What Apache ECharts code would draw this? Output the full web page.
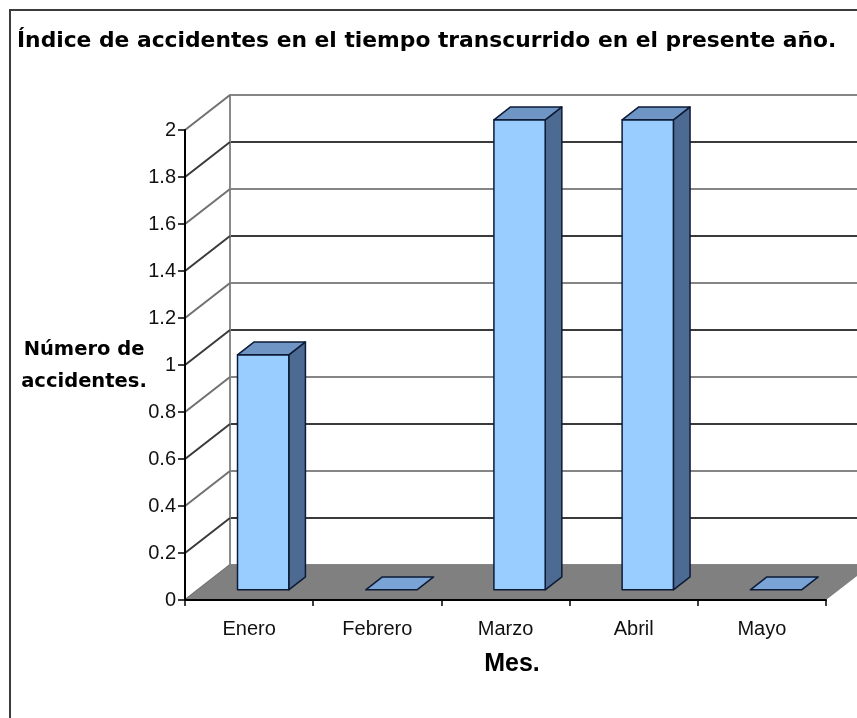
<!DOCTYPE html>
<html lang="es">
	<head>
		<meta charset="UTF-8" />
		<title>Índice de accidentes</title>
		<script src="https://cdn.jsdelivr.net/npm/echarts@6/dist/echarts.min.js"></script>
		<style>
			html, body { margin: 0; padding: 0; background: #fff; }
		</style>
	</head>
	<body>
		<div id="chart" style="width: 857px; height: 718px"></div>

		<script>
			const months = ["Enero", "Febrero", "Marzo", "Abril", "Mayo"];
			const accidents = [1, 0, 2, 2, 0];
			const yTicks = [0, 0.2, 0.4, 0.6, 0.8, 1, 1.2, 1.4, 1.6, 1.8, 2];

			// depth vector from the front plane to the back wall
			const DX = 45;
			const DY = -35;
			const BAR_FRONT = 0.29;
			const BAR_BACK = 0.66;

			const chart = echarts.init(document.getElementById("chart"));

			function renderDiagonal(params, api) {
				const cs = params.coordSys;
				const y = api.coord([0, api.value(0)])[1];
				return {
					type: "line",
					shape: { x1: cs.x, y1: y, x2: cs.x + DX, y2: y + DY },
					style: { stroke: params.dataIndex % 2 ? "#3a3a3a" : "#707070", lineWidth: 2 },
				};
			}

			function renderFloor(params, api) {
				const cs = params.coordSys;
				const y0 = api.coord([0, 0])[1];
				return {
					type: "polygon",
					shape: {
						points: [
							[cs.x, y0],
							[cs.x + cs.width, y0],
							[cs.x + cs.width + DX, y0 + DY],
							[cs.x + DX, y0 + DY],
						],
					},
					style: { fill: "#808080" },
				};
			}

			function renderBar(params, api) {
				const idx = api.value(0);
				const top = api.coord([idx, api.value(1)]);
				const base = api.coord([idx, 0]);
				const bw = api.size([1, 0])[0] * 0.4;
				const xL = top[0] - bw / 2 + DX * BAR_FRONT + 1;
				const xR = xL + bw;
				const yT = top[1] + DY * BAR_FRONT;
				const yB = base[1] + DY * BAR_FRONT;
				const ddx = DX * (BAR_BACK - BAR_FRONT);
				const ddy = DY * (BAR_BACK - BAR_FRONT);
				const stroke = { stroke: "#0d1b36", lineWidth: 1.5, lineJoin: "round" };
				const children = [];
				if (yB - yT > 0.5) {
					children.push({
						type: "polygon",
						shape: { points: [[xR, yT], [xR, yB], [xR + ddx, yB + ddy], [xR + ddx, yT + ddy]] },
						style: Object.assign({ fill: "#4d6a92" }, stroke),
					});
					children.push({
						type: "rect",
						shape: { x: xL, y: yT, width: bw, height: yB - yT },
						style: Object.assign({ fill: "#99ccff" }, stroke),
					});
				}
				children.push({
					type: "polygon",
					shape: { points: [[xL, yT], [xR, yT], [xR + ddx, yT + ddy], [xL + ddx, yT + ddy]] },
					style: Object.assign({ fill: yB - yT > 0.5 ? "#6f95c5" : "#7aa3d6" }, stroke),
				});
				return { type: "group", children: children };
			}

			const option = {
				backgroundColor: "#ffffff",
				animation: false,
				grid: [
					{ left: 185, top: 130, width: 641, height: 470 },
					{ left: 230, top: 95, width: 641, height: 470 },
				],
				xAxis: [
					{
						type: "category",
						gridIndex: 0,
						data: months,
						z: 10,
						axisLine: { lineStyle: { color: "#000", width: 2 } },
						axisTick: { show: true, length: 6, lineStyle: { color: "#000", width: 1.5 } },
						axisLabel: {
							color: "#111",
							fontFamily: "Liberation Sans",
							fontSize: 20,
							margin: 19,
						},
					},
					{ type: "category", gridIndex: 1, data: months, show: false },
				],
				yAxis: [
					{
						type: "value",
						gridIndex: 0,
						min: 0,
						max: 2,
						interval: 0.2,
						z: 10,
						axisLine: { show: true, lineStyle: { color: "#000", width: 2 } },
						axisTick: { show: true, length: 7, lineStyle: { color: "#000", width: 1.5 } },
						axisLabel: {
							color: "#111",
							fontFamily: "Liberation Sans",
							fontSize: 20,
							margin: 9,
						},
						splitLine: { show: false },
					},
					{
						type: "value",
						gridIndex: 1,
						min: 0,
						max: 2,
						interval: 0.2,
						axisLine: { show: true, lineStyle: { color: "#8a8a8a", width: 2 } },
						axisTick: { show: false },
						axisLabel: { show: false },
						splitLine: { show: true, lineStyle: { color: ["#858585", "#3a3a3a"], width: 2 } },
					},
				],
				graphic: [
					{
						type: "rect",
						shape: { x: 10, y: 10, width: 900, height: 800 },
						style: { fill: "none", stroke: "#3c3c3c", lineWidth: 2 },
						z: 100,
					},
					{
						type: "text",
						left: 17,
						top: 30,
						style: {
							text: "Índice de accidentes en el tiempo transcurrido en el presente año.",
							font: "bold 21.8px 'DejaVu Sans'",
							fill: "#000",
						},
					},
					{
						type: "text",
						x: 84,
						y: 366,
						style: {
							text: "Número de\naccidentes.",
							font: "bold 19.5px 'DejaVu Sans'",
							lineHeight: 32,
							align: "center",
							verticalAlign: "middle",
							fill: "#000",
						},
					},
					{
						type: "text",
						x: 512,
						y: 664,
						style: {
							text: "Mes.",
							font: "bold 25px 'Liberation Sans'",
							align: "center",
							verticalAlign: "middle",
							fill: "#000",
						},
					},
				],
				series: [
					{
						type: "custom",
						name: "diagonales",
						xAxisIndex: 0,
						yAxisIndex: 0,
						z: 1,
						silent: true,
						data: yTicks.map((v) => [v]),
						renderItem: renderDiagonal,
					},
					{
						type: "custom",
						name: "piso",
						xAxisIndex: 0,
						yAxisIndex: 0,
						z: 2,
						silent: true,
						data: [[0]],
						renderItem: renderFloor,
					},
					{
						type: "custom",
						name: "Accidentes",
						xAxisIndex: 0,
						yAxisIndex: 0,
						z: 3,
						data: accidents.map((v, i) => [i, v]),
						encode: { x: 0, y: 1 },
						renderItem: renderBar,
					},
				],
			};

			chart.setOption(option);
		</script>
	</body>
</html>
